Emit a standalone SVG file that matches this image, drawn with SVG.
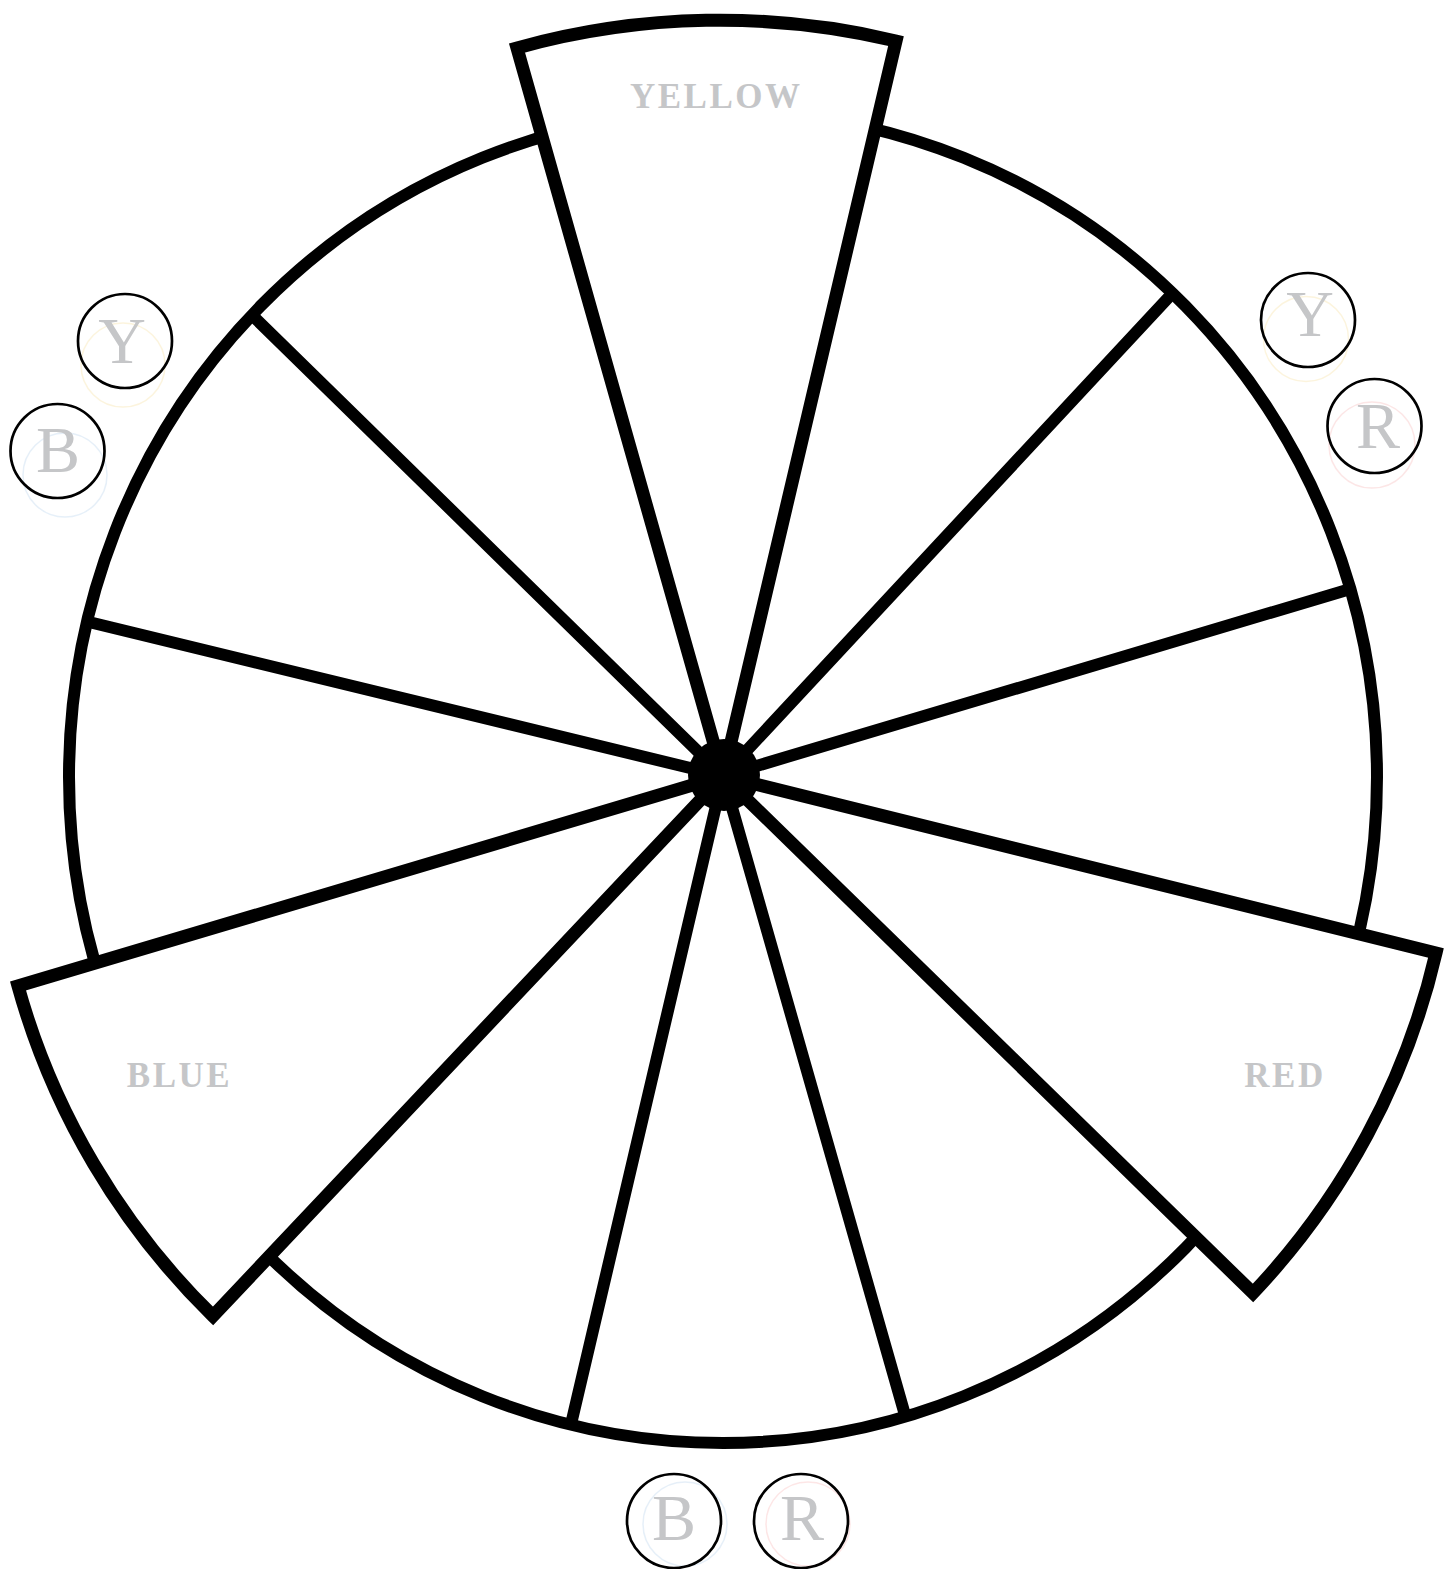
<svg xmlns="http://www.w3.org/2000/svg" width="1455" height="1569" viewBox="0 0 1455 1569">
<style>
.ln{fill:none;stroke:#000;stroke-width:12;stroke-linecap:round;stroke-linejoin:miter}
.wedge{fill:#fff;stroke:#000;stroke-width:13;stroke-linejoin:miter;stroke-miterlimit:10}
.lbl{font-family:"Liberation Serif","DejaVu Serif",serif;font-size:35px;font-weight:bold;fill:#c5c6c8;letter-spacing:2.5px;text-anchor:middle}
.let{font-family:"Liberation Serif","DejaVu Serif",serif;font-size:66px;fill:#c5c6c8;text-anchor:middle}
.bub{fill:none;stroke:#000;stroke-width:2.7}
.ghost{fill:none;stroke-width:1.5}
</style>
<rect width="1455" height="1569" fill="#fff"/>
<g id="wheel-rim">
<ellipse cx="723" cy="777" rx="654" ry="666" class="ln" stroke-width="13"/>
</g>
<g id="connectors">
<line x1="723" y1="776" x2="255" y2="318" class="ln"/>
<line x1="723" y1="776" x2="1168" y2="298" class="ln"/>
<line x1="723" y1="776" x2="1347" y2="590" class="ln"/>
<line x1="723" y1="776" x2="93" y2="623" class="ln"/>
<line x1="723" y1="776" x2="572" y2="1420" class="ln"/>
<line x1="723" y1="776" x2="905" y2="1415" class="ln"/>
</g>
<g id="yellow">
<path class="wedge" d="M723,776 L517,48 A756,756 0 0 1 896,41 Z"/>
<text class="lbl" x="716.25" y="108">YELLOW</text>
</g>
<g id="red">
<path class="wedge" d="M723,776 L1436,953 A737,737 0 0 1 1253,1293 Z"/>
<text class="lbl" x="1285" y="1087">RED</text>
</g>
<g id="blue">
<path class="wedge" d="M723,776 L213,1316 A737,737 0 0 1 18,986 Z"/>
<text class="lbl" x="179.5" y="1087">BLUE</text>
</g>
<g id="hub">
<circle cx="724" cy="775" r="36" fill="#000"/>
</g>
<g id="ghosts" opacity="0.6">
<circle class="ghost" cx="1306" cy="339" r="42.5" stroke="#fbeec8"/>
<circle class="ghost" cx="1372" cy="445" r="43" stroke="#fbd6d6"/>
<circle class="ghost" cx="123" cy="365" r="42" stroke="#fbeec8"/>
<circle class="ghost" cx="65" cy="475" r="42" stroke="#d6e6f5"/>
<circle class="ghost" cx="685" cy="1524" r="42" stroke="#d6e6f5"/>
<circle class="ghost" cx="808" cy="1524" r="42" stroke="#fbd6d6"/>
</g>
<g id="mix-yr-y">
<circle class="bub" cx="1308" cy="320" r="47"/>
<text class="let" x="1310" y="336">Y</text>
</g>
<g id="mix-yr-r">
<circle class="bub" cx="1374.5" cy="426" r="47"/>
<text class="let" x="1378" y="448">R</text>
</g>
<g id="mix-yb-y">
<circle class="bub" cx="125" cy="341" r="47"/>
<text class="let" x="122" y="363">Y</text>
</g>
<g id="mix-yb-b">
<circle class="bub" cx="57.5" cy="451" r="47"/>
<text class="let" x="58" y="472">B</text>
</g>
<g id="mix-br-b">
<circle class="bub" cx="674" cy="1521" r="47"/>
<text class="let" x="674" y="1540">B</text>
</g>
<g id="mix-br-r">
<circle class="bub" cx="801" cy="1521" r="47"/>
<text class="let" x="802" y="1540">R</text>
</g>
</svg>
